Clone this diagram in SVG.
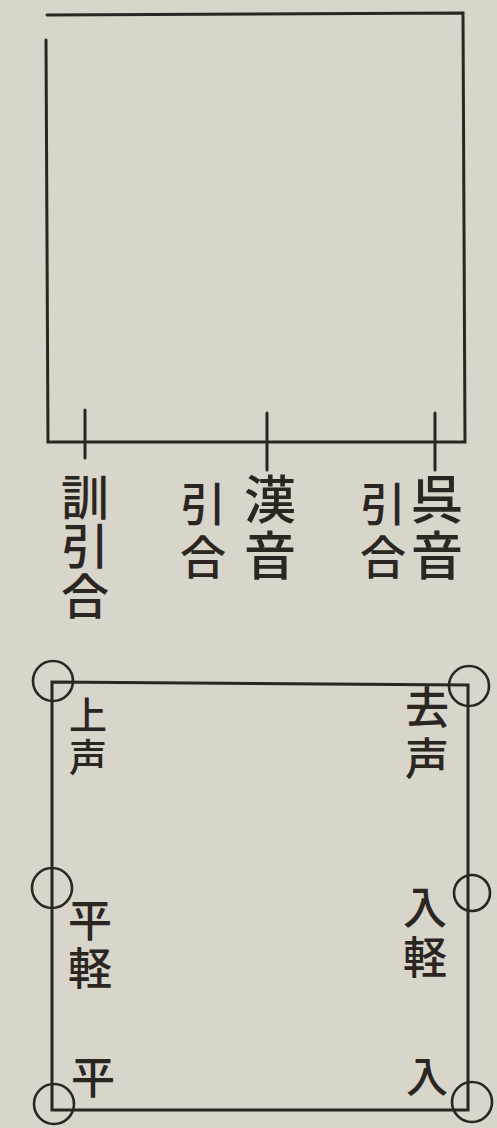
<svg xmlns="http://www.w3.org/2000/svg" width="497" height="1128" viewBox="0 0 497 1128">
<style>
.ln{stroke:#2b2622;stroke-width:3;fill:none;stroke-linecap:round}
.cir{stroke:#2b2622;stroke-width:2.6;fill:none}
.t{font-family:"Noto Sans CJK JP","Noto Sans CJK SC",sans-serif;fill:#2b2622;text-anchor:middle;font-weight:500}
</style>
<rect x="0" y="0" width="497" height="1128" fill="#d8d5ca"/>
<g id="top-box">
<path class="ln" d="M47 15 L463 13 L465 442 L48 442 L46 40"/>
</g>
<g id="connectors">
<line class="ln" x1="85" y1="410" x2="85" y2="458"/>
<line class="ln" x1="267" y1="413" x2="267" y2="470"/>
<line class="ln" x1="435" y1="413" x2="435" y2="470"/>
</g>
<g id="label-kun">
<text class="t" font-size="48"><tspan x="85" y="515">訓</tspan><tspan x="85" y="564">引</tspan><tspan x="85" y="614">合</tspan></text>
</g>
<g id="label-kan">
<text class="t" font-size="52"><tspan x="270" y="519">漢</tspan><tspan x="270" y="575">音</tspan></text>
<text class="t" font-size="46"><tspan x="203" y="521">引</tspan><tspan x="203" y="574">合</tspan></text>
</g>
<g id="label-go">
<text class="t" font-size="52"><tspan x="437" y="519">呉</tspan><tspan x="437" y="575">音</tspan></text>
<text class="t" font-size="46"><tspan x="383" y="521">引</tspan><tspan x="383" y="574">合</tspan></text>
</g>
<g id="bottom-box">
<path class="ln" d="M52 682 L468 685 L468 1110 L52 1110 Z"/>
<circle class="cir" cx="53" cy="681" r="20"/>
<circle class="cir" cx="469" cy="686" r="20"/>
<circle class="cir" cx="52" cy="888" r="20"/>
<circle class="cir" cx="472" cy="893" r="18"/>
<circle class="cir" cx="54" cy="1104" r="20"/>
<circle class="cir" cx="472" cy="1102" r="20"/>
</g>
<g id="label-jo">
<text class="t" font-size="38"><tspan x="88" y="729">上</tspan><tspan x="88" y="771">声</tspan></text>
</g>
<g id="label-kyo">
<text class="t" font-size="44"><tspan x="427" y="724">去</tspan><tspan x="427" y="775">声</tspan></text>
</g>
<g id="label-heikei">
<text class="t" font-size="44"><tspan x="90" y="937">平</tspan><tspan x="90" y="985">軽</tspan></text>
</g>
<g id="label-nyukei">
<text class="t" font-size="44"><tspan x="425" y="924">入</tspan><tspan x="425" y="974">軽</tspan></text>
</g>
<g id="label-hei">
<text class="t" font-size="44" x="93" y="1094">平</text>
</g>
<g id="label-nyu">
<text class="t" font-size="42" x="427" y="1092">入</text>
</g>
</svg>
